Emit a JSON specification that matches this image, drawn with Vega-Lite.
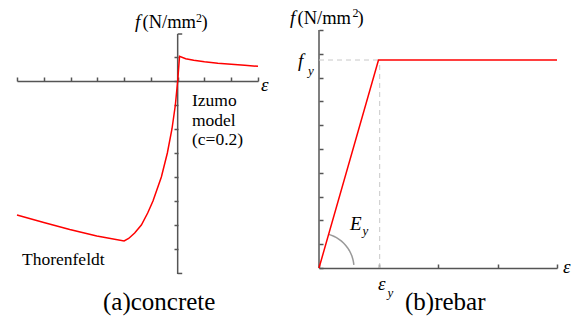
{
  "$schema": "https://vega.github.io/schema/vega-lite/v6.json",
  "autosize": {"type": "none"},
  "padding": {"left": 17, "top": 30, "right": 561, "bottom": 290},
  "background": "white",
  "bounds": "flush",
  "spacing": 61,
  "config": {
    "font": "Liberation Serif",
    "view": {"stroke": null},
    "axis": {"labels": false, "title": null, "grid": false, "domainColor": "#555", "tickColor": "#555", "domainWidth": 1.5, "tickWidth": 1.5, "tickSize": 4}
  },
  "hconcat": [
    {
      "width": 241,
      "height": 244,
      "encoding": {
        "x": {"field": "x", "type": "quantitative", "scale": {"domain": [-6, 3], "nice": false, "zero": false},
              "axis": {"orient": "top", "offset": -51, "values": [-6, -5, -4, -3, -2, -1, 0, 1, 2, 3], "domain": true}},
        "y": {"field": "y", "type": "quantitative", "scale": {"domain": [-8.042, 2.125], "nice": false, "zero": false},
              "axis": {"orient": "left", "offset": -161, "values": [-7, -6, -5, -4, -3, -2, -1, 0, 1], "domain": false}}
      },
      "layer": [
        {
          "data": {"values": [{"x": 0, "y": -8.042, "y2": 1.958}]},
          "mark": {"type": "rule", "color": "#555", "strokeWidth": 1.5},
          "encoding": {"y2": {"field": "y2"}}
        },
        {
          "data": {"values": [{"x": 0, "x2": 0.17, "y": -8.02}, {"x": 0, "x2": 0.17, "y": 1.958}]},
          "mark": {"type": "rule", "color": "#555", "strokeWidth": 1.5},
          "encoding": {"x2": {"field": "x2"}}
        },
        {
          "data": {"values": [
            {"i": 1, "x": -6, "y": -5.583},
            {"i": 2, "x": -5.0, "y": -5.896},
            {"i": 3, "x": -4.03, "y": -6.188},
            {"i": 4, "x": -3.02, "y": -6.458},
            {"i": 5, "x": -2.0, "y": -6.667},
            {"i": 6, "x": -1.83, "y": -6.56},
            {"i": 7, "x": -1.606, "y": -6.333},
            {"i": 8, "x": -1.356, "y": -6.0},
            {"i": 9, "x": -1.12, "y": -5.5},
            {"i": 10, "x": -0.922, "y": -5.0},
            {"i": 11, "x": -0.609, "y": -4.0},
            {"i": 12, "x": -0.385, "y": -3.0},
            {"i": 13, "x": -0.213, "y": -2.0},
            {"i": 14, "x": -0.086, "y": -1.0},
            {"i": 15, "x": 0, "y": 0},
            {"i": 16, "x": 0.07, "y": 1.03},
            {"i": 17, "x": 0.3, "y": 0.93},
            {"i": 18, "x": 0.6, "y": 0.86},
            {"i": 19, "x": 1.0, "y": 0.8},
            {"i": 20, "x": 1.5, "y": 0.74},
            {"i": 21, "x": 2.0, "y": 0.7},
            {"i": 22, "x": 2.5, "y": 0.66},
            {"i": 23, "x": 3.0, "y": 0.61}
          ]},
          "mark": {"type": "line", "color": "#ff0000", "strokeWidth": 1.5},
          "encoding": {"order": {"field": "i", "type": "quantitative"}}
        },
        {
          "data": {"values": [
            {"x": -1.314, "y": 2.188, "text": "(N/mm"},
            {"x": 0.89, "y": 2.188, "text": ")"}
          ]},
          "mark": {"type": "text", "fontSize": 18.5, "align": "left", "baseline": "alphabetic", "color": "black"},
          "encoding": {"text": {"field": "text"}}
        },
        {
          "data": {"values": [{"x": 0.684, "y": 2.46, "text": "2"}]},
          "mark": {"type": "text", "fontSize": 12, "align": "left", "baseline": "alphabetic", "color": "black"},
          "encoding": {"text": {"field": "text"}}
        },
        {
          "data": {"values": [
            {"x": 0.535, "y": -1.05, "text": "Izumo"},
            {"x": 0.535, "y": -1.86, "text": "model"},
            {"x": 0.535, "y": -2.66, "text": "(c=0.2)"},
            {"x": -5.813, "y": -7.667, "text": "Thorenfeldt"}
          ]},
          "mark": {"type": "text", "fontSize": 17.5, "align": "left", "baseline": "alphabetic", "color": "black"},
          "encoding": {"text": {"field": "text"}}
        },
        {
          "data": {"values": [
            {"x": -1.594, "y": 2.188, "text": "f"},
            {"x": 3.111, "y": -0.396, "text": "ε"}
          ]},
          "mark": {"type": "text", "fontSize": 19, "fontStyle": "italic", "align": "left", "baseline": "alphabetic", "color": "black"},
          "encoding": {"text": {"field": "text"}}
        },
        {
          "data": {"values": [{"x": -2.789, "y": -9.542, "text": "(a)concrete"}]},
          "mark": {"type": "text", "fontSize": 25, "align": "left", "baseline": "alphabetic", "color": "black"},
          "encoding": {"text": {"field": "text"}}
        }
      ]
    },
    {
      "width": 238,
      "height": 244,
      "encoding": {
        "x": {"field": "x", "type": "quantitative", "scale": {"domain": [0, 4], "nice": false, "zero": false},
              "axis": {"orient": "top", "offset": -238, "values": [0, 1, 2, 3, 4], "domain": true}},
        "y": {"field": "y", "type": "quantitative", "scale": {"domain": [-0.252, 10], "nice": false, "zero": false},
              "axis": {"orient": "right", "offset": -238, "values": [0, 1, 2, 3, 4, 5, 6, 7, 8, 9, 10], "domain": false}}
      },
      "layer": [
        {
          "data": {"values": [{"x": 0, "y": 0, "y2": 10}]},
          "mark": {"type": "rule", "color": "#555", "strokeWidth": 1.5},
          "encoding": {"y2": {"field": "y2"}}
        },
        {
          "data": {"values": [{"x": 0, "x2": 1, "y": 8.739}]},
          "mark": {"type": "rule", "color": "#c8c8c8", "strokeWidth": 1, "strokeDash": [5, 4]},
          "encoding": {"x2": {"field": "x2"}}
        },
        {
          "data": {"values": [{"x": 1.02, "y": 0, "y2": 8.739}]},
          "mark": {"type": "rule", "color": "#c8c8c8", "strokeWidth": 1, "strokeDash": [5, 4]},
          "encoding": {"y2": {"field": "y2"}}
        },
        {
          "data": {"values": [
            {"i": 1, "x": 0.586, "y": 0.128},
            {"i": 2, "x": 0.579, "y": 0.255},
            {"i": 3, "x": 0.568, "y": 0.381},
            {"i": 4, "x": 0.553, "y": 0.503},
            {"i": 5, "x": 0.533, "y": 0.622},
            {"i": 6, "x": 0.509, "y": 0.736},
            {"i": 7, "x": 0.482, "y": 0.844},
            {"i": 8, "x": 0.45, "y": 0.946},
            {"i": 9, "x": 0.416, "y": 1.04},
            {"i": 10, "x": 0.378, "y": 1.127},
            {"i": 11, "x": 0.337, "y": 1.205},
            {"i": 12, "x": 0.294, "y": 1.274},
            {"i": 13, "x": 0.248, "y": 1.333},
            {"i": 14, "x": 0.201, "y": 1.382},
            {"i": 15, "x": 0.162, "y": 1.414}
          ]},
          "mark": {"type": "line", "color": "#999", "strokeWidth": 1.5},
          "encoding": {"order": {"field": "i", "type": "quantitative"}}
        },
        {
          "data": {"values": [
            {"i": 1, "x": 0, "y": 0},
            {"i": 2, "x": 1, "y": 8.739},
            {"i": 3, "x": 4, "y": 8.739}
          ]},
          "mark": {"type": "line", "color": "#ff0000", "strokeWidth": 1.5},
          "encoding": {"order": {"field": "i", "type": "quantitative"}}
        },
        {
          "data": {"values": [
            {"x": -0.361, "y": 10.252, "text": "(N/mm"},
            {"x": 0.647, "y": 10.252, "text": ")"}
          ]},
          "mark": {"type": "text", "fontSize": 18.5, "align": "left", "baseline": "alphabetic", "color": "black"},
          "encoding": {"text": {"field": "text"}}
        },
        {
          "data": {"values": [{"x": 0.563, "y": 10.53, "text": "2"}]},
          "mark": {"type": "text", "fontSize": 12, "align": "left", "baseline": "alphabetic", "color": "black"},
          "encoding": {"text": {"field": "text"}}
        },
        {
          "data": {"values": [
            {"x": -0.487, "y": 10.252, "text": "f"},
            {"x": -0.353, "y": 8.445, "text": "f"},
            {"x": 0.521, "y": 1.597, "text": "E"},
            {"x": 0.992, "y": -0.924, "text": "ε"},
            {"x": 4.101, "y": -0.21, "text": "ε"}
          ]},
          "mark": {"type": "text", "fontSize": 19, "fontStyle": "italic", "align": "left", "baseline": "alphabetic", "color": "black"},
          "encoding": {"text": {"field": "text"}}
        },
        {
          "data": {"values": [
            {"x": -0.185, "y": 8.109, "text": "y"},
            {"x": 0.731, "y": 1.387, "text": "y"},
            {"x": 1.151, "y": -1.218, "text": "y"}
          ]},
          "mark": {"type": "text", "fontSize": 13, "fontStyle": "italic", "align": "left", "baseline": "alphabetic", "color": "black"},
          "encoding": {"text": {"field": "text"}}
        },
        {
          "data": {"values": [{"x": 1.445, "y": -1.765, "text": "(b)rebar"}]},
          "mark": {"type": "text", "fontSize": 25, "align": "left", "baseline": "alphabetic", "color": "black"},
          "encoding": {"text": {"field": "text"}}
        }
      ]
    }
  ]
}
